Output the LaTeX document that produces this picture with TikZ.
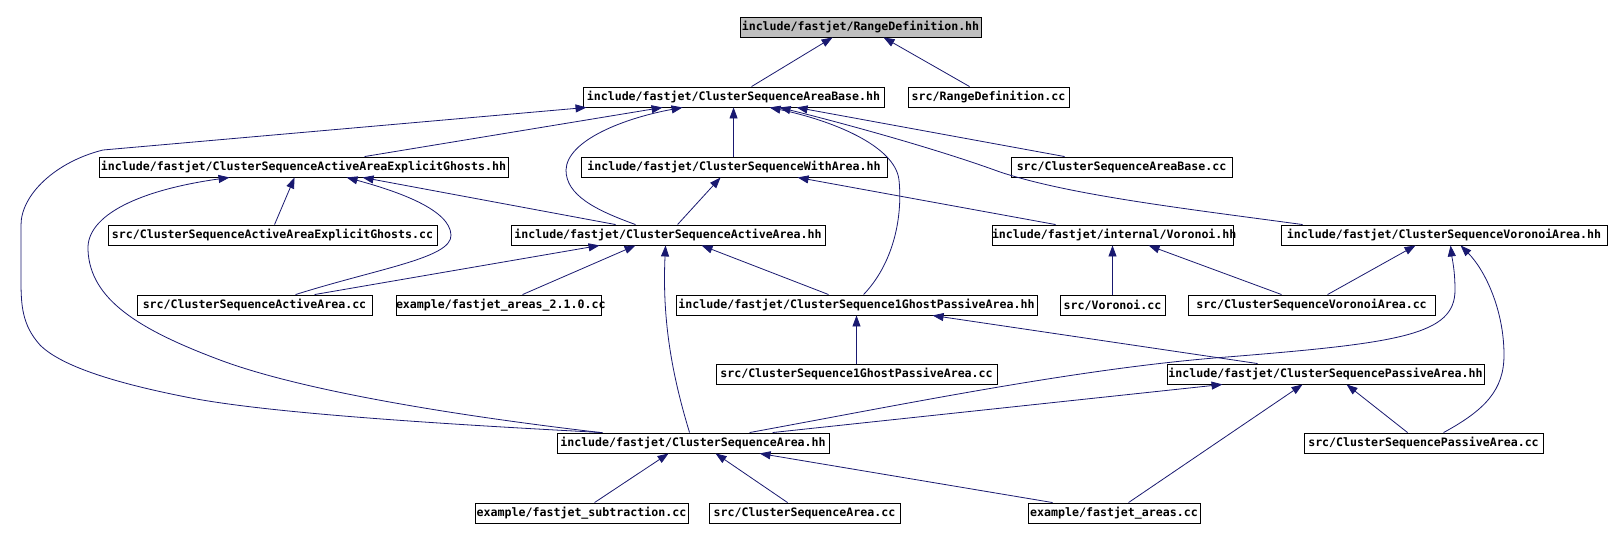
\documentclass[tikz,border=0pt]{standalone}
\usepackage{fontspec}
\setmonofont{DejaVu Sans Mono}
\usetikzlibrary{arrows.meta}
\definecolor{edgeblue}{HTML}{191970}
\definecolor{hlgray}{HTML}{BFBFBF}
\begin{document}
\begin{tikzpicture}[x=1pt,y=-1pt,
  nbox/.style={draw=black, fill=white, line width=0.9pt, inner sep=0pt,
    minimum height=20pt, align=center,
    font=\ttfamily\bfseries\fontsize{11.6}{13}\selectfont},
  dep/.style={draw=edgeblue, line width=0.8pt,
    -{Triangle[length=11pt,width=8pt]}}]
\fill[white] (0,0) rectangle (1612,540);
\useasboundingbox (0,0) rectangle (1612,540);
% nodes
\node[nbox, fill=hlgray, text width=241pt] (rdh) at (860.5,27) {include/fastjet/RangeDefinition.hh};
\node[nbox, text width=301pt] (abh) at (733.5,97) {include/fastjet/ClusterSequenceAreaBase.hh};
\node[nbox, text width=161pt] (rdc) at (988.5,97) {src/RangeDefinition.cc};
\node[nbox, text width=409pt] (egh) at (303.5,167) {include/fastjet/ClusterSequenceActiveAreaExplicitGhosts.hh};
\node[nbox, text width=306pt] (wah) at (734,167) {include/fastjet/ClusterSequenceWithArea.hh};
\node[nbox, text width=221pt] (abc) at (1121.5,167) {src/ClusterSequenceAreaBase.cc};
\node[nbox, text width=329pt] (egc) at (272.5,235) {src/ClusterSequenceActiveAreaExplicitGhosts.cc};
\node[nbox, text width=314pt] (aah) at (668,235) {include/fastjet/ClusterSequenceActiveArea.hh};
\node[nbox, text width=241pt] (vih) at (1112.5,235) {include/fastjet/internal/Voronoi.hh};
\node[nbox, text width=326pt] (vah) at (1444,235) {include/fastjet/ClusterSequenceVoronoiArea.hh};
\node[nbox, text width=235pt] (aac) at (254.5,305) {src/ClusterSequenceActiveArea.cc};
\node[nbox, text width=205pt] (a21) at (498.5,305) {example/fastjet\_areas\_2.1.0.cc};
\node[nbox, text width=361pt] (g1h) at (856.5,305) {include/fastjet/ClusterSequence1GhostPassiveArea.hh};
\node[nbox, text width=105pt] (voc) at (1112.5,305) {src/Voronoi.cc};
\node[nbox, text width=247pt] (vac) at (1311.5,305) {src/ClusterSequenceVoronoiArea.cc};
\node[nbox, text width=281pt] (g1c) at (856.5,374) {src/ClusterSequence1GhostPassiveArea.cc};
\node[nbox, text width=317pt] (pah) at (1325.5,374) {include/fastjet/ClusterSequencePassiveArea.hh};
\node[nbox, text width=272pt] (cah) at (693,443) {include/fastjet/ClusterSequenceArea.hh};
\node[nbox, text width=239pt] (pac) at (1423.5,443) {src/ClusterSequencePassiveArea.cc};
\node[nbox, text width=213pt] (sub) at (581.5,513) {example/fastjet\_subtraction.cc};
\node[nbox, text width=191pt] (cac) at (804.5,513) {src/ClusterSequenceArea.cc};
\node[nbox, text width=172pt] (are) at (1114,513) {example/fastjet\_areas.cc};
% edges
\draw[dep] ([xshift=169pt]abh.north west) -- ([xshift=93pt]rdh.south west);
\draw[dep] ([xshift=62pt]rdc.north west) -- ([xshift=144pt]rdh.south west);
\draw[dep] ([xshift=266pt]egh.north west) -- ([xshift=80pt]abh.south west);
\draw[dep] ([xshift=153pt]wah.north west) -- ([xshift=151pt]abh.south west);
\draw[dep] ([xshift=125pt]aah.north west) .. controls (595,210) and (566,195) .. (566,170)
  .. controls (567,140) and (625,118) .. ([xshift=100pt]abh.south west);
\draw[dep] ([xshift=54pt]abc.north west) -- ([xshift=214pt]abh.south west);
\draw[dep] ([xshift=22pt]vah.north west) .. controls (1180,208) and (1070,195) .. (1000,172)
  .. controls (940,150) and (850,125) .. ([xshift=197pt]abh.south west);
\draw[dep] ([xshift=188pt]g1h.north west) .. controls (892,265) and (903,220) .. (899,180)
  .. controls (895,145) and (830,120) .. ([xshift=187pt]abh.south west);
\draw[dep] ([xshift=46pt]cah.north west) .. controls (420,423) and (260,412) .. (186,397)
  .. controls (110,382) and (60,365) .. (40,345)
  .. controls (22,325) and (21,305) .. (21,280) -- (21,225)
  .. controls (21,195) and (55,162) .. (103,150) -- ([xshift=4pt]abh.south west);
\draw[dep] ([xshift=44pt]cah.north west) .. controls (450,415) and (300,390) .. (220,360)
  .. controls (140,330) and (90,300) .. (88,250)
  .. controls (86,215) and (140,190) .. ([xshift=131pt]egh.south west);
\draw[dep] ([xshift=167pt]egc.north west) -- ([xshift=196pt]egh.south west);
\draw[dep] ([xshift=105pt]aah.north west) -- ([xshift=264pt]egh.south west);
\draw[dep] ([xshift=159pt]aac.north west) .. controls (380,268) and (452,258) .. (451,235)
  .. controls (450,210) and (400,192) .. ([xshift=248pt]egh.south west);
\draw[dep] ([xshift=178pt]aac.north west) -- ([xshift=89pt]aah.south west);
\draw[dep] ([xshift=127pt]a21.north west) -- ([xshift=125pt]aah.south west);
\draw[dep] ([xshift=133pt]cah.north west) .. controls (672,375) and (662,320) .. ([xshift=155pt]aah.south west);
\draw[dep] ([xshift=153pt]g1h.north west) -- ([xshift=191pt]aah.south west);
\draw[dep] ([xshift=64pt]vih.north west) -- ([xshift=217pt]wah.south west);
\draw[dep] ([xshift=167pt]aah.north west) -- ([xshift=140pt]wah.south west);
\draw[dep] (voc.north) -- (vih.south);
\draw[dep] ([xshift=94pt]vac.north west) -- ([xshift=157pt]vih.south west);
\draw[dep] ([xshift=140pt]vac.north west) -- ([xshift=135pt]vah.south west);
\draw[dep] ([xshift=193pt]cah.north west) .. controls (900,405) and (1080,368) .. (1227,357)
  .. controls (1400,343) and (1455,335) .. (1455,290)
  .. controls (1455,270) and (1452,258) .. ([xshift=170pt]vah.south west);
\draw[dep] ([xshift=140pt]pac.north west) .. controls (1485,410) and (1504,390) .. (1504,355)
  .. controls (1504,310) and (1485,270) .. ([xshift=180pt]vah.south west);
\draw[dep] (g1c.north) -- (g1h.south);
\draw[dep] ([xshift=91pt]pah.north west) -- ([xshift=257pt]g1h.south west);
\draw[dep] ([xshift=216pt]cah.north west) -- ([xshift=56pt]pah.south west);
\draw[dep] ([xshift=101pt]are.north west) -- ([xshift=136pt]pah.south west);
\draw[dep] ([xshift=104pt]pac.north west) -- ([xshift=180pt]pah.south west);
\draw[dep] ([xshift=120pt]sub.north west) -- ([xshift=112pt]cah.south west);
\draw[dep] ([xshift=79pt]cac.north west) -- ([xshift=159pt]cah.south west);
\draw[dep] ([xshift=25pt]are.north west) -- ([xshift=203pt]cah.south west);
\end{tikzpicture}
\end{document}
